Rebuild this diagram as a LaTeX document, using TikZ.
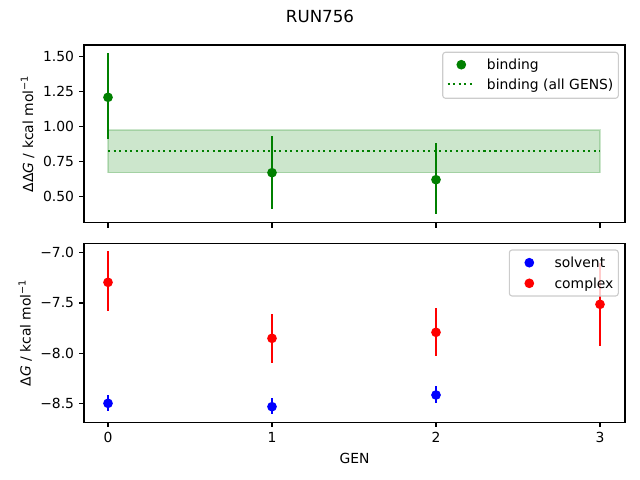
\documentclass[tikz,border=0pt]{standalone}
\usepackage{fontspec}
\setmainfont{DejaVu Sans}
\definecolor{mgreen}{RGB}{0,128,0}
\definecolor{mblue}{RGB}{0,0,255}
\definecolor{mred}{RGB}{255,0,0}
\definecolor{legedge}{RGB}{204,204,204}
\begin{document}
\begin{tikzpicture}[x=0.72pt,y=-0.72pt,font=\fontsize{10}{12}\selectfont,
  axisframe/.style={line width=0.8pt,draw=black},
  tickmark/.style={line width=0.8pt},
  ebar/.style={line width=1.5pt},
  ticklab/.style={inner sep=0pt,anchor=east},
  xticklab/.style={inner sep=0pt,anchor=north},
  legbox/.style={draw=legedge,line width=0.8pt,fill=white,fill opacity=0.8,rounded corners=2pt},
  legtext/.style={inner sep=0pt,anchor=base west},
  meanline/.style={mgreen,line width=1.5pt,dash pattern=on 1.5pt off 2.475pt},
  band/.style={fill=mgreen,fill opacity=0.2,draw=mgreen,draw opacity=0.2,line width=1pt}]
\useasboundingbox (0,0) rectangle (640,480);
% title
\node[anchor=base,inner sep=0pt,font=\fontsize{12}{14}\selectfont] (title) at (320,22) {RUN756};

% ===== top axes =====
\draw[band] (108,130) rectangle (600,172.7);
\draw[meanline] (108,150.7) -- (600,150.7);
\draw[ebar,mgreen] (108,53.3) -- (108,139.3);
\draw[ebar,mgreen] (272,136) -- (272,208.7);
\draw[ebar,mgreen] (436,143.3) -- (436,214.3);
\fill[mgreen] (108,97.3) circle[radius=3.5pt];
\fill[mgreen] (272,172.7) circle[radius=3.5pt];
\fill[mgreen] (436,179.7) circle[radius=3.5pt];
\draw[axisframe] (84,45) rectangle (625,222.7);
\foreach \yy/\lab in {56.3/1.50,91.3/1.25,126.3/1.00,161.3/0.75,196.3/0.50}{
  \draw[tickmark] (84,\yy) -- (79.1,\yy);
  \node[ticklab] at (74.3,\yy) {\lab};
}
\foreach \xx in {108,272,436,600}{
  \draw[tickmark] (\xx,222.7) -- (\xx,227.6);
}
\node[rotate=90,anchor=base,inner sep=0pt] (ylabtop) at (33,133.9)
  {ΔΔ\textit{G} / kcal mol\textsuperscript{−1}};
% legend top
\draw[legbox] (442.7,52.3) rectangle (618.3,98.3);
\fill[mgreen] (461.3,64.7) circle[radius=3.5pt];
\node[legtext] (lbind) at (486.7,69.3) {binding};
\draw[meanline] (447.7,84) -- (475,84);
\node[legtext] (lall) at (486.7,89.3) {binding (all GENS)};

% ===== bottom axes =====
\draw[ebar,mblue] (108,395) -- (108,410.7);
\draw[ebar,mblue] (272,398.3) -- (272,413.7);
\draw[ebar,mblue] (436,386) -- (436,403);
\fill[mblue] (108,403.3) circle[radius=3.5pt];
\fill[mblue] (272,406.7) circle[radius=3.5pt];
\fill[mblue] (436,395) circle[radius=3.5pt];
\draw[ebar,mred] (108,251) -- (108,311.3);
\draw[ebar,mred] (272,314.3) -- (272,362.7);
\draw[ebar,mred] (436,308) -- (436,356);
\draw[ebar,mred] (600,263) -- (600,345.7);
\fill[mred] (108,282.3) circle[radius=3.5pt];
\fill[mred] (272,338.3) circle[radius=3.5pt];
\fill[mred] (436,332.3) circle[radius=3.5pt];
\fill[mred] (600,304.3) circle[radius=3.5pt];
\draw[axisframe] (84,243.3) rectangle (625,422.3);
\foreach \yy/\lab in {252.7/−7.0,303/−7.5,353.3/−8.0,403.7/−8.5}{
  \draw[tickmark] (84,\yy) -- (79.1,\yy);
  \node[ticklab] at (74.3,\yy) {\lab};
}
\foreach \xx/\lab in {108/0,272/1,436/2,600/3}{
  \draw[tickmark] (\xx,422.3) -- (\xx,427.2);
  \node[xticklab] at (\xx,432) {\lab};
}
\node[anchor=base,inner sep=0pt] (xlab) at (354.5,463.3) {GEN};
\node[rotate=90,anchor=base,inner sep=0pt] (ylabbot) at (30.7,332.8)
  {Δ\textit{G} / kcal mol\textsuperscript{−1}};
% legend bottom
\draw[legbox] (509.3,250) rectangle (618.3,296);
\fill[mblue] (529.3,262.7) circle[radius=3.5pt];
\node[legtext] (lsolv) at (554.3,267.3) {solvent};
\fill[mred] (529.3,283.3) circle[radius=3.5pt];
\node[legtext] (lcomp) at (554.3,288.3) {complex};
\end{tikzpicture}
\end{document}
